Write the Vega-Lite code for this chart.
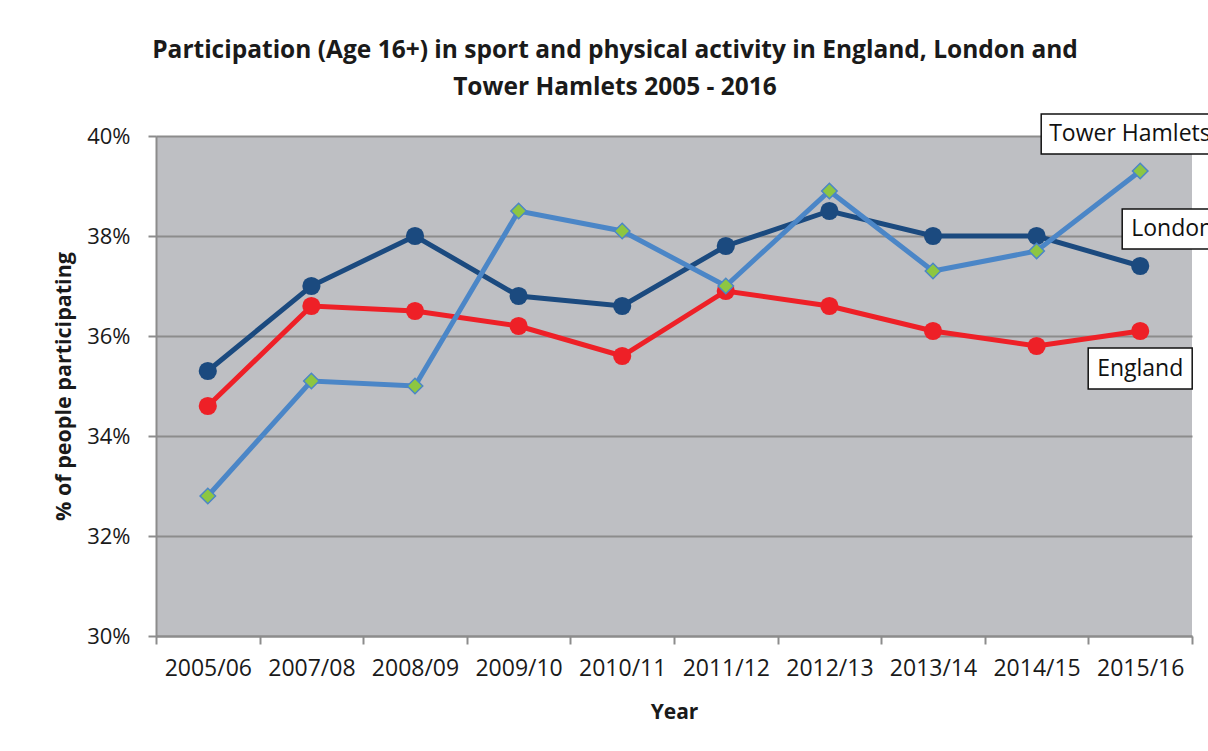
{
  "$schema": "https://vega.github.io/schema/vega-lite/v6.json",
  "width": 1036,
  "height": 500,
  "autosize": "none",
  "padding": {"left": 156, "top": 136, "right": 16, "bottom": 115},
  "background": "white",
  "config": {
    "view": {"fill": "#BEBFC3", "stroke": null},
    "font": "Open Sans",
    "axis": {"labelFont": "Open Sans", "titleFont": "Open Sans"}
  },
  "title": {
    "text": ["Participation (Age 16+) in sport and physical activity in England,  London and", "Tower Hamlets 2005 - 2016"],
    "font": "Open Sans",
    "fontSize": 24.5,
    "fontWeight": "bold",
    "color": "#1a1a1a",
    "anchor": "middle",
    "dx": -59,
    "offset": 11,
    "lineHeight": 37
  },
  "data": {
    "values": [
      {"Year": "2005/06", "Area": "England", "value": 34.6},
      {"Year": "2007/08", "Area": "England", "value": 36.6},
      {"Year": "2008/09", "Area": "England", "value": 36.5},
      {"Year": "2009/10", "Area": "England", "value": 36.2},
      {"Year": "2010/11", "Area": "England", "value": 35.6},
      {"Year": "2011/12", "Area": "England", "value": 36.9},
      {"Year": "2012/13", "Area": "England", "value": 36.6},
      {"Year": "2013/14", "Area": "England", "value": 36.1},
      {"Year": "2014/15", "Area": "England", "value": 35.8},
      {"Year": "2015/16", "Area": "England", "value": 36.1},
      {"Year": "2005/06", "Area": "London", "value": 35.3},
      {"Year": "2007/08", "Area": "London", "value": 37.0},
      {"Year": "2008/09", "Area": "London", "value": 38.0},
      {"Year": "2009/10", "Area": "London", "value": 36.8},
      {"Year": "2010/11", "Area": "London", "value": 36.6},
      {"Year": "2011/12", "Area": "London", "value": 37.8},
      {"Year": "2012/13", "Area": "London", "value": 38.5},
      {"Year": "2013/14", "Area": "London", "value": 38.0},
      {"Year": "2014/15", "Area": "London", "value": 38.0},
      {"Year": "2015/16", "Area": "London", "value": 37.4},
      {"Year": "2005/06", "Area": "Tower Hamlets", "value": 32.8},
      {"Year": "2007/08", "Area": "Tower Hamlets", "value": 35.1},
      {"Year": "2008/09", "Area": "Tower Hamlets", "value": 35.0},
      {"Year": "2009/10", "Area": "Tower Hamlets", "value": 38.5},
      {"Year": "2010/11", "Area": "Tower Hamlets", "value": 38.1},
      {"Year": "2011/12", "Area": "Tower Hamlets", "value": 37.0},
      {"Year": "2012/13", "Area": "Tower Hamlets", "value": 38.9},
      {"Year": "2013/14", "Area": "Tower Hamlets", "value": 37.3},
      {"Year": "2014/15", "Area": "Tower Hamlets", "value": 37.7},
      {"Year": "2015/16", "Area": "Tower Hamlets", "value": 39.3}
    ]
  },
  "encoding": {
    "x": {
      "field": "Year",
      "type": "nominal",
      "sort": null,
      "scale": {"paddingInner": 0, "paddingOuter": 0},
      "axis": {
        "title": "Year",
        "titleFontSize": 21,
        "titleFontWeight": "bold",
        "titleColor": "#1a1a1a",
        "titlePadding": 21,
        "labelAngle": 0,
        "labelFontSize": 23,
        "labelColor": "#1a1a1a",
        "labelPadding": 13,
        "tickBand": "extent",
        "tickColor": "#8c8c8c",
        "tickWidth": 2,
        "tickSize": 8,
        "domainColor": "#8c8c8c",
        "domainWidth": 2,
        "grid": false
      }
    },
    "y": {
      "field": "value",
      "type": "quantitative",
      "scale": {"domain": [30, 40], "nice": false, "zero": false},
      "axis": {
        "title": "% of people participating",
        "titleFontSize": 21.5,
        "titleFontWeight": "bold",
        "titleColor": "#1a1a1a",
        "titlePadding": 11,
        "values": [30, 32, 34, 36, 38, 40],
        "labelExpr": "datum.value + '%'",
        "labelFontSize": 22,
        "labelColor": "#1a1a1a",
        "labelPadding": 18,
        "tickColor": "#8c8c8c",
        "tickWidth": 2,
        "tickSize": 8,
        "domainColor": "#8c8c8c",
        "domainWidth": 2,
        "gridColor": "#8c8c8c",
        "gridWidth": 2
      }
    }
  },
  "layer": [
    {
      "mark": {"type": "line", "strokeWidth": 5},
      "encoding": {
        "color": {
          "field": "Area",
          "type": "nominal",
          "scale": {"domain": ["England", "London", "Tower Hamlets"], "range": ["#EE2027", "#1B4A7F", "#4B86C7"]},
          "legend": null
        }
      }
    },
    {
      "transform": [{"filter": "datum.Area != 'Tower Hamlets'"}],
      "mark": {"type": "point", "shape": "circle", "filled": true, "size": 330, "opacity": 1},
      "encoding": {
        "color": {
          "field": "Area",
          "type": "nominal",
          "scale": {"domain": ["England", "London", "Tower Hamlets"], "range": ["#EE2027", "#1B4A7F", "#4B86C7"]},
          "legend": null
        }
      }
    },
    {
      "transform": [{"filter": "datum.Area == 'Tower Hamlets'"}],
      "mark": {"type": "point", "shape": "diamond", "filled": true, "size": 240, "opacity": 1, "fill": "#8DC641", "stroke": "#4B86C7", "strokeWidth": 1.5}
    },
    {
      "transform": [{"filter": "datum.Area == 'Tower Hamlets' && datum.Year == '2015/16'"}],
      "mark": {"type": "point", "shape": "M-1,-0.2222L1,-0.2222L1,0.2222L-1,0.2222Z", "size": 32400, "filled": false, "fill": "white", "fillOpacity": 1, "stroke": "#111111", "strokeWidth": 1.5, "opacity": 1, "xOffset": -9, "yOffset": -37}
    },
    {
      "transform": [{"filter": "datum.Area == 'London' && datum.Year == '2015/16'"}],
      "mark": {"type": "point", "shape": "M-1,-0.4L1,-0.4L1,0.4L-1,0.4Z", "size": 10000, "filled": false, "fill": "white", "fillOpacity": 1, "stroke": "#111111", "strokeWidth": 1.5, "opacity": 1, "xOffset": 32, "yOffset": -37}
    },
    {
      "transform": [{"filter": "datum.Area == 'England' && datum.Year == '2015/16'"}],
      "mark": {"type": "point", "shape": "M-1,-0.394L1,-0.394L1,0.394L-1,0.394Z", "size": 10816, "filled": false, "fill": "white", "fillOpacity": 1, "stroke": "#111111", "strokeWidth": 1.5, "opacity": 1, "xOffset": 0, "yOffset": 37.5}
    },
    {
      "transform": [{"filter": "datum.Area == 'Tower Hamlets' && datum.Year == '2015/16'"}],
      "mark": {"type": "text", "align": "left", "baseline": "middle", "fontSize": 23, "color": "#111111", "dx": -91, "dy": -37},
      "encoding": {"text": {"field": "Area"}}
    },
    {
      "transform": [{"filter": "datum.Area == 'London' && datum.Year == '2015/16'"}],
      "mark": {"type": "text", "align": "left", "baseline": "middle", "fontSize": 23, "color": "#111111", "dx": -9, "dy": -37},
      "encoding": {"text": {"field": "Area"}}
    },
    {
      "transform": [{"filter": "datum.Area == 'England' && datum.Year == '2015/16'"}],
      "mark": {"type": "text", "align": "center", "baseline": "middle", "fontSize": 23, "color": "#111111", "dx": 0, "dy": 37.5},
      "encoding": {"text": {"field": "Area"}}
    }
  ]
}
